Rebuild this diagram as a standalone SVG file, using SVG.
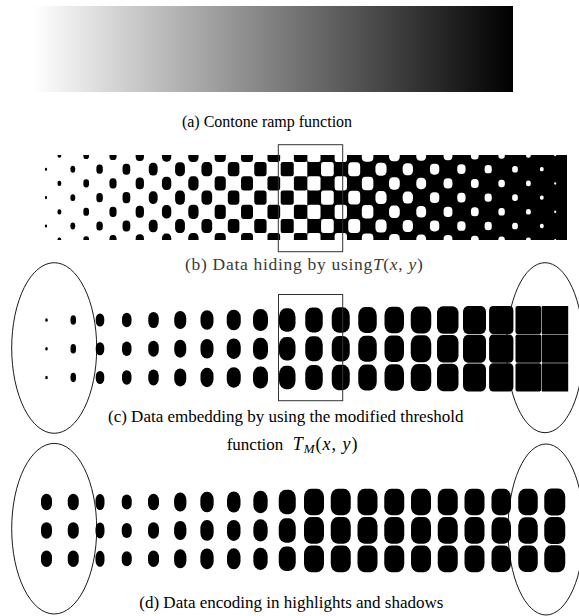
<svg xmlns="http://www.w3.org/2000/svg" width="579" height="616" viewBox="0 0 579 616">
<style>
.k{fill:#000}
.w{fill:#fff}
.cap{font-family:"Liberation Serif","Times New Roman",serif;font-size:17px;fill:#000}
.cm{font-family:"Liberation Serif","Times New Roman",serif;font-size:17.5px;fill:#3a3a3a;letter-spacing:0.7px}
.ell{fill:none;stroke:#000;stroke-width:0.9}
.frm{fill:none;stroke:#333;stroke-width:1}
</style>
<defs>
<linearGradient id="ramp" x1="0" x2="1" y1="0" y2="0"><stop offset="0" stop-color="#fff"/><stop offset="1" stop-color="#000"/></linearGradient>
<clipPath id="cb"><rect x="40" y="155" width="527" height="85"/></clipPath>
</defs>
<rect width="579" height="616" fill="#fff"/>

<g id="panel-a">
<rect x="34" y="6" width="479" height="86" fill="url(#ramp)"/>
<text class="cap" x="267" y="127" text-anchor="middle" style="font-size:16px">(a) Contone ramp function</text>
</g>

<g id="panel-b">
<g clip-path="url(#cb)">
<rect class="k" x="307.3" y="155" width="260" height="85"/>
<g id="r0">
<g class="k">
<rect x="57.54" y="152.34" width="3.72" height="5.32" rx="1.67" ry="2"/>
<rect x="83.36" y="150.94" width="5.68" height="8.12" rx="2.56" ry="3.1"/>
<rect x="109.44" y="149.91" width="7.12" height="10.18" rx="3.2" ry="3.9"/>
<rect x="135.65" y="149.06" width="8.31" height="11.89" rx="3.7" ry="4.5"/>
<rect x="161.93" y="148.31" width="9.35" height="13.38" rx="4" ry="4.8"/>
<rect x="188.26" y="147.9" width="10.29" height="14.2" rx="4" ry="4.8"/>
<rect x="214.63" y="147.9" width="11.15" height="14.2" rx="3.5" ry="4"/>
<rect x="241.03" y="147.9" width="11.95" height="14.2" rx="3" ry="3.5"/>
<rect x="267.46" y="147.9" width="12.69" height="14.2" rx="2.5" ry="3"/>
<rect x="293.9" y="147.9" width="13.4" height="14.2" rx="2"/>
</g>
<g class="w">
<rect x="307.48" y="147.9" width="13.05" height="14.2" rx="2"/>
<rect x="334.64" y="147.9" width="12.33" height="14.2" rx="2.8" ry="3.2"/>
<rect x="361.82" y="148.26" width="11.56" height="13.47" rx="3.8" ry="4.4"/>
<rect x="389.04" y="148.75" width="10.73" height="12.5" rx="4" ry="4.6"/>
<rect x="416.29" y="149.27" width="9.83" height="11.46" rx="4" ry="4.3"/>
<rect x="443.58" y="149.85" width="8.85" height="10.31" rx="3.9" ry="4"/>
<rect x="470.93" y="150.49" width="7.74" height="9.02" rx="3.4" ry="3.5"/>
<rect x="498.38" y="151.25" width="6.44" height="7.5" rx="2.9"/>
<rect x="526" y="152.2" width="4.8" height="5.59" rx="2.16" ry="2.2"/>
<rect x="554.13" y="153.75" width="2.15" height="2.5" rx="1" ry="1.1"/>
</g>
</g>
<g id="r1">
<g class="k">
<rect x="44.93" y="167.67" width="2.15" height="3.07" rx="1" ry="1.3"/>
<rect x="70.4" y="165.77" width="4.8" height="6.86" rx="2.16" ry="2.6"/>
<rect x="96.38" y="164.6" width="6.44" height="9.21" rx="2.9" ry="3.5"/>
<rect x="122.53" y="163.67" width="7.74" height="11.07" rx="3.5" ry="4.2"/>
<rect x="148.78" y="162.87" width="8.85" height="12.66" rx="3.9" ry="4.7"/>
<rect x="175.09" y="162.17" width="9.83" height="14.07" rx="4" ry="4.8"/>
<rect x="201.44" y="162.1" width="10.73" height="14.2" rx="4" ry="4.6"/>
<rect x="227.82" y="162.1" width="11.56" height="14.2" rx="3.5" ry="4"/>
<rect x="254.24" y="162.1" width="12.33" height="14.2" rx="2.8" ry="3.2"/>
<rect x="280.68" y="162.1" width="13.05" height="14.2" rx="2.2"/>
</g>
<g class="w">
<rect x="321.06" y="162.1" width="12.69" height="14.2" rx="2.5" ry="3"/>
<rect x="348.23" y="162.23" width="11.95" height="13.93" rx="3.5" ry="4"/>
<rect x="375.43" y="162.7" width="11.15" height="13" rx="4" ry="4.6"/>
<rect x="402.66" y="163.2" width="10.29" height="12" rx="4" ry="4.5"/>
<rect x="429.93" y="163.75" width="9.35" height="10.9" rx="4" ry="4.1"/>
<rect x="457.25" y="164.36" width="8.31" height="9.69" rx="3.7"/>
<rect x="484.64" y="165.05" width="7.12" height="8.3" rx="3.2"/>
<rect x="512.16" y="165.89" width="5.68" height="6.62" rx="2.56" ry="2.6"/>
<rect x="539.94" y="167.03" width="3.72" height="4.33" rx="1.67" ry="1.7"/>
</g>
</g>
<use href="#r0" y="28.4"/>
<use href="#r0" y="56.8"/>
<use href="#r0" y="85.2"/>
<use href="#r1" y="28.4"/>
<use href="#r1" y="56.8"/>
</g>
<rect class="frm" x="278.3" y="144.7" width="64.4" height="107"/>
<text class="cm" x="185" y="270">(b) Data hiding by using<tspan font-style="italic">T</tspan>(<tspan font-style="italic">x</tspan>, <tspan font-style="italic">y</tspan>)</text>
</g>

<g id="panel-c">
<g id="rc" class="k">
<rect x="45.25" y="318.25" width="2.5" height="3.5" rx="1.25" ry="1.5"/>
<rect x="70.5" y="315.25" width="5.5" height="9.5" rx="2.75" ry="3.8"/>
<rect x="95.75" y="313.5" width="8.5" height="13" rx="4.25" ry="5.2"/>
<rect x="122" y="312.75" width="9.5" height="14.5" rx="4.75" ry="5.8"/>
<rect x="148.25" y="312" width="10.5" height="16" rx="5.25" ry="6.4"/>
<rect x="174.25" y="311" width="12" height="18" rx="6" ry="7.2"/>
<rect x="200.5" y="310.25" width="13" height="19.5" rx="6.5" ry="7.8"/>
<rect x="226.75" y="309.75" width="14" height="20.5" rx="6.8" ry="8"/>
<rect x="253" y="309" width="15" height="22" rx="7" ry="8.5"/>
<rect x="279" y="308.25" width="16.5" height="23.5" rx="7" ry="8.5"/>
<rect x="305.25" y="307.5" width="17.5" height="25" rx="7" ry="8.5"/>
<rect x="331.75" y="307.25" width="18" height="25.5" rx="7" ry="8.5"/>
<rect x="358.25" y="307" width="18.5" height="26" rx="7" ry="8.5"/>
<rect x="384.5" y="306.75" width="19.5" height="26.5" rx="7" ry="8.5"/>
<rect x="410.75" y="306.5" width="20.5" height="27" rx="7" ry="8.5"/>
<rect x="437" y="306.25" width="21.5" height="27.5" rx="6" ry="7"/>
<rect x="463" y="306" width="23" height="28" rx="5" ry="6"/>
<rect x="489.1" y="305.9" width="24.3" height="28.2" rx="4" ry="4.5"/>
<rect x="515.5" y="305.9" width="25.8" height="28.2" rx="2"/>
<rect x="541.8" y="305.9" width="26.4" height="28.2" rx="0.5"/>
</g>
<use href="#rc" y="28.7"/>
<use href="#rc" y="57.4"/>
<rect class="frm" x="278.5" y="294.5" width="64.2" height="106.2"/>
<ellipse class="ell" cx="54.2" cy="348" rx="42.5" ry="85.3"/>
<ellipse class="ell" cx="545" cy="347.7" rx="38.5" ry="85"/>
<text class="cap" x="108" y="422">(c) Data embedding by using the modified threshold</text>
<text class="cap" x="226.7" y="450">function</text>
<text class="cap" x="292.7" y="450" style="font-size:18px;letter-spacing:1px"><tspan font-style="italic">T</tspan><tspan font-style="italic" font-size="13" dy="3">M</tspan><tspan dy="-3">(</tspan><tspan font-style="italic">x</tspan>, <tspan font-style="italic">y</tspan>)</text>
</g>

<g id="panel-d">
<g id="rd" class="k">
<rect x="41" y="493.75" width="11" height="16.5" rx="5.5" ry="6.6"/>
<rect x="67.75" y="493.75" width="11" height="16.5" rx="5.5" ry="6.6"/>
<rect x="95.5" y="494" width="9" height="16" rx="4.5" ry="6.4"/>
<rect x="121.75" y="494.5" width="10" height="15" rx="5" ry="6"/>
<rect x="148" y="493.75" width="11" height="16.5" rx="5.5" ry="6.6"/>
<rect x="174.1" y="492.5" width="12.3" height="19" rx="6" ry="7.5"/>
<rect x="200.35" y="491.65" width="13.3" height="20.7" rx="6.5" ry="8"/>
<rect x="227" y="491.5" width="13.5" height="21" rx="6.7" ry="8"/>
<rect x="253.35" y="490.85" width="14.3" height="22.3" rx="7" ry="8.5"/>
<rect x="278.75" y="489.75" width="17" height="24.5" rx="7" ry="8.5"/>
<rect x="304" y="488.65" width="20" height="26.7" rx="7" ry="8.5"/>
<rect x="330.75" y="488.65" width="20" height="26.7" rx="7" ry="8.5"/>
<rect x="357.5" y="488.65" width="20" height="26.7" rx="7" ry="8.5"/>
<rect x="384.25" y="488.65" width="20" height="26.7" rx="7" ry="8.5"/>
<rect x="411" y="488.65" width="20" height="26.7" rx="7" ry="8.5"/>
<rect x="437.75" y="488.65" width="20" height="26.7" rx="7" ry="8.5"/>
<rect x="464.5" y="488.65" width="20" height="26.7" rx="7" ry="8.5"/>
<rect x="491.5" y="488.75" width="19.5" height="26.5" rx="7" ry="8.5"/>
<rect x="518.25" y="488.75" width="19.5" height="26.5" rx="7" ry="8.5"/>
<rect x="544.25" y="488.5" width="21" height="27" rx="7" ry="8.5"/>
</g>
<use href="#rd" y="28.4"/>
<use href="#rd" y="56.8"/>
<ellipse class="ell" cx="54.2" cy="528.7" rx="42.5" ry="85.3"/>
<ellipse class="ell" cx="546" cy="529.5" rx="38" ry="85.5"/>
<text class="cap" x="139.3" y="608">(d) Data encoding in highlights and shadows</text>
</g>
</svg>
